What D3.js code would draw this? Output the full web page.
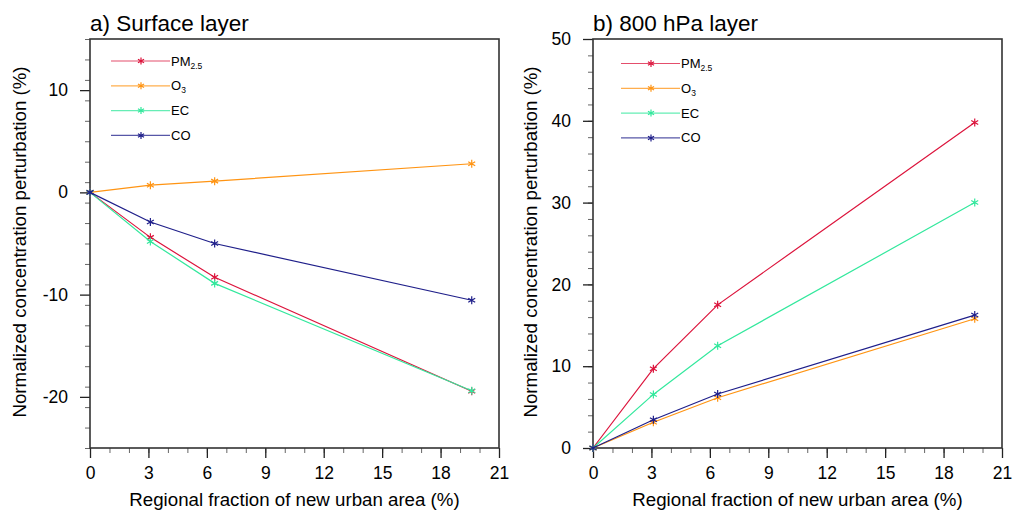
<!DOCTYPE html>
<html>
<head>
<meta charset="utf-8">
<script src="https://cdn.jsdelivr.net/npm/d3@7"></script>
<style>
  body { margin: 0; background: #fff; }
  text { font-family: "Liberation Sans", Arial, sans-serif; fill: #000; }
</style>
</head>
<body>
<div id="chart"></div>
<script>
// regional fraction of new urban area (%)
var fractions = [0, 3.1, 6.4, 19.6];

var species = ["PM", "O", "EC", "CO"];
var subs = ["2.5", "3", "", ""];
var colors = ["#dc143c", "#ff9413", "#33e89d", "#1f1f8a"];

// a) surface layer
var surfPM = [0, -4.4, -8.3, -19.45];
var surfO3 = [0, 0.7, 1.1, 2.8];
var surfEC = [0, -4.8, -8.9, -19.4];
var surfCO = [0, -2.9, -5.0, -10.55];

// b) 800 hPa layer
var upPM = [0, 9.7, 17.5, 39.8];
var upO3 = [0, 3.15, 6.15, 15.8];
var upEC = [0, 6.55, 12.5, 30.0];
var upCO = [0, 3.45, 6.6, 16.25];

var xTicks = [0, 3, 6, 9, 12, 15, 18, 21];
var yTicksA = [-20, -10, 0, 10];
var yTicksB = [0, 10, 20, 30, 40, 50];

var width = 1014, height = 522;

var svg = d3.select("#chart")
    .append("svg")
    .attr("width", width)
    .attr("height", height);

// draws an asterisk marker
function star(g, x, y, color, r) {
    var d = "";
    [90, 30, 150].forEach(function (a) {
        var dx = r * Math.cos(a * Math.PI / 180), dy = r * Math.sin(a * Math.PI / 180);
        d += "M" + (x - dx) + "," + (y - dy) + "L" + (x + dx) + "," + (y + dy);
    });
    g.append("path").attr("d", d).attr("stroke", color).attr("stroke-width", 1.2);
}

function makePanel(opt) {
    var g = svg.append("g");
    var x = d3.scaleLinear().domain([0, 21]).range([opt.left, opt.left + 409]);
    var y = d3.scaleLinear().domain(opt.yDomain).range([448, 39]);

    // minor ticks
    g.append("g")
        .attr("transform", "translate(0,448)")
        .call(d3.axisBottom(x).tickValues(d3.range(0, 22, 1)).tickSize(5).tickFormat(""))
        .call(function (a) { a.select(".domain").remove(); a.selectAll("line").attr("stroke", "#666"); });
    g.append("g")
        .attr("transform", "translate(" + opt.left + ",0)")
        .call(d3.axisLeft(y).tickValues(d3.range(opt.yDomain[0], opt.yDomain[1] + 1, 2)).tickSize(5).tickFormat(""))
        .call(function (a) { a.select(".domain").remove(); a.selectAll("line").attr("stroke", "#666"); });

    // major ticks, plain hyphen for negatives like the original
    var plain = function (d) { return String(d); };
    var xa = g.append("g")
        .attr("transform", "translate(0,448)")
        .call(d3.axisBottom(x).tickValues(xTicks).tickSize(10).tickPadding(9).tickFormat(plain));
    var ya = g.append("g")
        .attr("transform", "translate(" + opt.left + ",0)")
        .call(d3.axisLeft(y).tickValues(opt.yTicks).tickSize(10).tickPadding(12).tickFormat(plain));
    [xa, ya].forEach(function (a) {
        a.select(".domain").remove();
        a.selectAll("line").attr("stroke", "#222").attr("stroke-width", 1.3);
        a.selectAll("text").style("font-size", "17.5px")
            .style("font-family", "'Liberation Sans', Arial, sans-serif").attr("fill", "#000");
    });

    // frame
    g.append("rect")
        .attr("x", opt.left).attr("y", 39)
        .attr("width", 409).attr("height", 409)
        .attr("fill", "none").attr("stroke", "#333").attr("stroke-width", 1.6);

    // series
    var line = d3.line()
        .x(function (d, i) { return x(fractions[i]); })
        .y(function (d) { return y(d); });
    opt.series.forEach(function (s, k) {
        g.append("path").datum(s)
            .attr("d", line)
            .attr("fill", "none")
            .attr("stroke", colors[k])
            .attr("stroke-width", 1.2);
        s.forEach(function (v, i) { star(g, x(fractions[i]), y(v), colors[k], 4); });
    });

    // legend
    var lg = g.append("g")
        .attr("transform", "translate(" + (opt.left + opt.legX) + "," + opt.legY + ")");
    species.forEach(function (name, k) {
        var ly = k * 24.8;
        lg.append("line")
            .attr("x1", 0).attr("x2", 59).attr("y1", ly).attr("y2", ly)
            .attr("stroke", colors[k]).attr("stroke-width", 1.2).attr("opacity", 0.75);
        star(lg, 30, ly, colors[k], 3.5);
        var t = lg.append("text")
            .attr("x", 60).attr("y", ly + 4.5)
            .style("font-size", "13px")
            .text(name);
        if (subs[k]) {
            t.append("tspan").attr("dy", 3).style("font-size", "8.5px").text(subs[k]);
        }
    });

    // titles
    g.append("text")
        .attr("x", opt.left).attr("y", 31)
        .style("font-size", "22.5px")
        .text(opt.title);
    g.append("text")
        .attr("x", opt.left + 204.5).attr("y", 506)
        .attr("text-anchor", "middle")
        .style("font-size", "18.7px")
        .text("Regional fraction of new urban area (%)");
    g.append("text")
        .attr("transform", "translate(" + (opt.left + opt.yTitleDx) + ",242) rotate(-90)")
        .attr("text-anchor", "middle")
        .style("font-size", "18.7px")
        .text("Normalized concentration perturbation (%)");
}

makePanel({
    left: 90, yDomain: [-25, 15], yTicks: yTicksA,
    series: [surfPM, surfO3, surfEC, surfCO],
    legX: 21, legY: 61, yTitleDx: -64,
    title: "a) Surface layer"
});
makePanel({
    left: 593, yDomain: [0, 50], yTicks: yTicksB,
    series: [upPM, upO3, upEC, upCO],
    legX: 28, legY: 63.5, yTitleDx: -56,
    title: "b) 800 hPa layer"
});
</script>
</body>
</html>
